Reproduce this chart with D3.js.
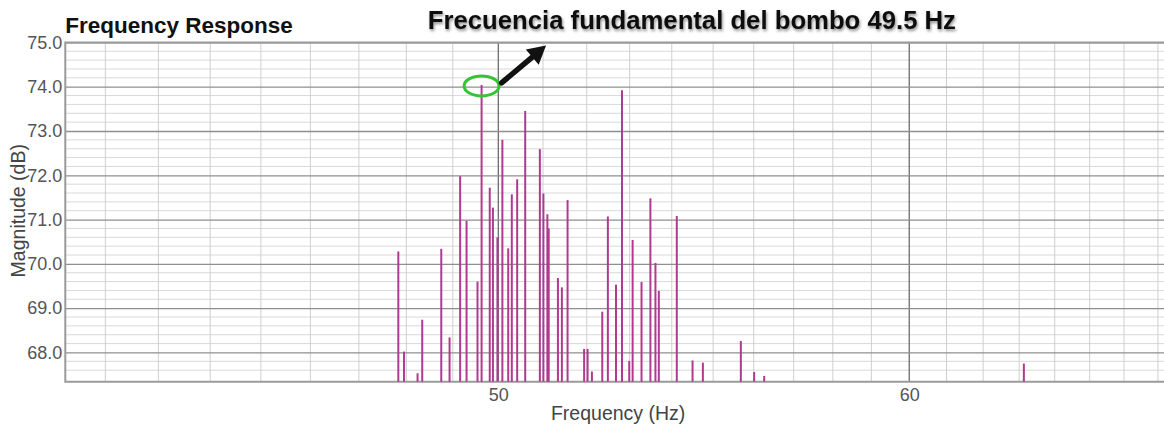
<!DOCTYPE html>
<html>
<head>
<meta charset="utf-8">
<script src="https://cdn.jsdelivr.net/npm/d3@7"></script>
<style>
  body { margin: 0; background: #fff; }
  text { font-family: "Liberation Sans", Arial, sans-serif; }
  .label { fill: #444; font-size: 19.5px; }
  .tick text { fill: #555; font-size: 18px; }
  .title { font-weight: bold; font-size: 22.5px; fill: #111; }
  .note { font-weight: bold; font-size: 25.7px; fill: #111; }
</style>
</head>
<body>
<div id="chart"></div>
<script>
var svg, x, y;
var graphHeight, graphWidth, margin;

// peaks (Hz, dB)
var freqs = [47.83, 47.95, 48.24, 48.34, 48.75, 48.93, 49.16, 49.30, 49.54, 49.63,
             49.81, 49.88, 49.98, 50.09, 50.22, 50.30, 50.42, 50.60, 50.93, 51.01,
             51.10, 51.13, 51.34, 51.43, 51.56, 51.94, 52.02, 52.12, 52.36, 52.49,
             52.68, 52.82, 52.99, 53.07, 53.28, 53.49, 53.61, 53.69, 54.12, 54.50,
             54.75, 55.68, 56.01, 56.26, 63.13];
var mags = [70.28, 68.02, 67.53, 68.74, 70.34, 68.34, 71.98, 70.97, 69.60, 74.04,
            71.72, 71.27, 70.60, 72.80, 70.35, 71.57, 71.91, 73.45, 72.59, 71.59,
            71.12, 70.80, 69.68, 69.47, 71.44, 68.08, 68.08, 67.57, 68.92, 71.07,
            69.53, 73.92, 67.81, 70.54, 69.59, 71.48, 70.02, 69.39, 71.08, 67.82,
            67.77, 68.26, 67.56, 67.47, 67.75];

var yTicks = [68, 69, 70, 71, 72, 73, 74, 75];
var xLabels = [50, 60];
var xDomain = [41.26, 67.18];
var yDomain = [67.34, 75.0];

var width = 1164, height = 426;
margin = {top: 42.4, right: 0, bottom: 44.3, left: 65.3};
graphWidth = width - margin.left - margin.right;
graphHeight = height - margin.top - margin.bottom;

var root = d3.select("#chart")
  .append("svg")
  .attr("width", width)
  .attr("height", height);

var defs = root.append("defs");
defs.append("filter")
  .attr("id", "shadow")
  .attr("x", "-5%").attr("y", "-30%")
  .attr("width", "110%").attr("height", "160%")
  .append("feDropShadow")
  .attr("dx", 1).attr("dy", 2)
  .attr("stdDeviation", 1.5)
  .attr("flood-color", "#000")
  .attr("flood-opacity", 0.45);

svg = root.append("g")
  .attr("transform", "translate(" + margin.left + "," + margin.top + ")");

x = d3.scaleLog()
  .domain(xDomain)
  .range([0, graphWidth]);

y = d3.scaleLinear()
  .domain(yDomain)
  .range([graphHeight, 0]);

// minor horizontal grid, every 0.2 dB
svg.append("g")
  .selectAll("line")
  .data(d3.range(1, 39).map(i => 67.4 + i * 0.2).filter(v => Math.abs(v - Math.round(v)) > 0.05 && v < 75))
  .enter()
  .append("line")
  .attr("x1", 0).attr("x2", graphWidth)
  .attr("y1", d => y(d)).attr("y2", d => y(d))
  .style("stroke", "#d9d9d9")
  .style("stroke-width", 1);

// vertical grid, every 1 Hz
svg.append("g")
  .selectAll("line")
  .data(d3.range(42, 68))
  .enter()
  .append("line")
  .attr("x1", d => x(d)).attr("x2", d => x(d))
  .attr("y1", 0).attr("y2", graphHeight)
  .style("stroke", d => xLabels.indexOf(d) >= 0 ? "#6d6d6d" : "#cfcfcf")
  .style("stroke-width", d => xLabels.indexOf(d) >= 0 ? 1.3 : 1);

// y axis with major grid
svg.append("g")
  .attr("class", "yAxis axis")
  .call(
    d3.axisLeft(y)
    .tickValues(yTicks)
    .tickSizeInner(-graphWidth)
    .tickSizeOuter(0)
    .tickPadding(3)
    .tickFormat(d3.format(".1f")))
  .call(g => g.select(".domain").remove())
  .call(g => g.selectAll(".tick line").style("stroke", "#8f8f8f").style("stroke-width", 1.3));

// x axis labels
svg.append("g")
  .attr("class", "xAxis axis")
  .attr("transform", "translate(" + [0, graphHeight] + ")")
  .call(
    d3.axisBottom(x)
    .tickValues(xLabels)
    .tickSize(0)
    .tickPadding(7)
    .tickFormat(d3.format("d")))
  .call(g => g.select(".domain").remove());

// frame
svg.append("path")
  .attr("d", "M" + graphWidth + ",0H0V" + graphHeight + "H" + graphWidth)
  .style("fill", "none")
  .style("stroke", "#9a9a9a")
  .style("stroke-width", 2);

// peaks
svg.selectAll(".peak")
  .data(freqs)
  .enter()
  .append("line")
  .attr("class", "peak")
  .attr("x1", d => x(d)).attr("x2", d => x(d))
  .attr("y1", graphHeight)
  .attr("y2", (d, i) => y(mags[i]))
  .style("stroke", "#b03a90")
  .style("stroke-width", 2);

// text label for the y axis
svg.append("text")
  .attr("transform", "rotate(-90)")
  .attr("y", 0 - margin.left)
  .attr("x", 0 - (y(71.2)))
  .attr("dy", "25px")
  .attr("class", "label")
  .style("text-anchor", "middle")
  .text("Magnitude (dB)");

// text label for the x axis
svg.append("text")
  .attr("x", x(52.73))
  .attr("y", graphHeight + 38.3)
  .attr("class", "label")
  .style("text-anchor", "middle")
  .text("Frequency (Hz)");

// title
svg.append("text")
  .attr("x", 0)
  .attr("y", -9)
  .attr("class", "title")
  .text("Frequency Response");

// annotation for the fundamental
var peak = d3.maxIndex(mags);
svg.append("ellipse")
  .attr("cx", x(freqs[peak]))
  .attr("cy", y(mags[peak]) + 1)
  .attr("rx", 17.5)
  .attr("ry", 10)
  .style("fill", "none")
  .style("stroke", "#35c435")
  .style("stroke-width", 3);

var ax0 = x(freqs[peak]) + 20, ay0 = y(mags[peak]) - 2;
var ax1 = x(51.07), ay1 = y(74.93);
var ang = Math.atan2(ay1 - ay0, ax1 - ax0);
var headLen = 18, headW = 10;
var bx = ax1 - headLen * Math.cos(ang), by = ay1 - headLen * Math.sin(ang);
svg.append("line")
  .attr("x1", ax0).attr("y1", ay0)
  .attr("x2", bx).attr("y2", by)
  .style("stroke", "#111")
  .style("stroke-width", 5.5)
  .style("stroke-linecap", "round");
svg.append("path")
  .attr("d", "M" + ax1 + "," + ay1 +
    "L" + (bx + headW * Math.sin(ang)) + "," + (by - headW * Math.cos(ang)) +
    "L" + (bx - headW * Math.sin(ang)) + "," + (by + headW * Math.cos(ang)) + "Z")
  .style("fill", "#111");

svg.append("text")
  .attr("x", x(48.46))
  .attr("y", -13)
  .attr("class", "note")
  .attr("filter", "url(#shadow)")
  .text("Frecuencia fundamental del bombo 49.5 Hz");
</script>
</body>
</html>
